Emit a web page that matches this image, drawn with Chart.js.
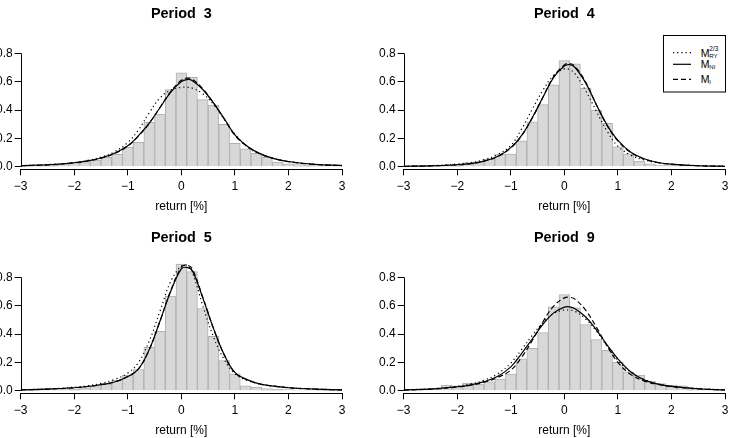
<!DOCTYPE html>
<html>
<head>
<meta charset="utf-8">
<script src="https://cdn.jsdelivr.net/npm/chart.js@4.4.1/dist/chart.umd.min.js"></script>
<style>
  html, body { margin: 0; padding: 0; background: #fff; width: 734px; height: 438px; overflow: hidden; position: relative; }
  canvas.panel { position: absolute; }
  #legend { position: absolute; left: 663px; top: 35px; }
</style>
</head>
<body>
<canvas class="panel" id="p3" width="367" height="219" style="left:-16px;top:0px"></canvas>
<canvas class="panel" id="p4" width="367" height="219" style="left:367px;top:0px"></canvas>
<canvas class="panel" id="p5" width="367" height="219" style="left:-16px;top:224px"></canvas>
<canvas class="panel" id="p9" width="367" height="219" style="left:367px;top:224px"></canvas>

<svg id="legend" width="64" height="60" font-family="Liberation Sans, Arial, sans-serif" fill="#000">
  <rect x="0.5" y="0.5" width="62" height="56.5" fill="#fff" stroke="#000" stroke-width="1"/>
  <line x1="10" y1="17.7" x2="28" y2="17.7" stroke="#000" stroke-width="1.2" stroke-dasharray="1.2 3"/>
  <line x1="10" y1="29.3" x2="28" y2="29.3" stroke="#000" stroke-width="1.2"/>
  <line x1="10" y1="44.3" x2="28" y2="44.3" stroke="#000" stroke-width="1.2" stroke-dasharray="5 3"/>
  <text x="37.7" y="21.7" font-size="10.5">M</text>
  <text x="46.3" y="15.7" font-size="6.5">2/3</text>
  <text x="46.3" y="22.6" font-size="6">RY</text>
  <text x="37.7" y="32.7" font-size="10.5">M</text>
  <text x="46.3" y="33.5" font-size="6">NI</text>
  <text x="37.7" y="47.7" font-size="10.5">M</text>
  <text x="46.3" y="48.5" font-size="6">I</text>
</svg>

<script>
const FONT = '"Liberation Sans", Arial, Helvetica, sans-serif';

// histogram bins (centres, width 0.2)
const BIN_CENTERS = [-3.0, -2.8, -2.6, -2.4, -2.2, -2.0, -1.8, -1.6, -1.4, -1.2, -1.0, -0.8, -0.6, -0.4, -0.2,
  0.0, 0.2, 0.4, 0.6, 0.8, 1.0, 1.2, 1.4, 1.6, 1.8, 2.0, 2.2, 2.4, 2.6, 2.8, 3.0];
const CURVE_X = [-3, -2.5, -2, -1.75, -1.5, -1.25, -1, -0.8, -0.6, -0.4, -0.2, 0, 0.1, 0.2, 0.4, 0.6, 0.8, 1, 1.25, 1.5, 1.75, 2, 2.5, 3];
const X_TICKS = [-3, -2, -1, 0, 1, 2, 3];
const Y_TICKS = [0, 0.2, 0.4, 0.6, 0.8];

// Period 3
const P3_HIST = [0.003, 0.005, 0.01, 0.01, 0.02, 0.03, 0.03, 0.047, 0.066, 0.087, 0.138, 0.173, 0.314, 0.372, 0.545,
  0.662, 0.63, 0.473, 0.435, 0.30, 0.166, 0.127, 0.094, 0.066, 0.033, 0.02, 0.015, 0.01, 0.005, 0.005, 0.003];
const P3_RY = [0.008, 0.015, 0.03, 0.045, 0.068, 0.105, 0.172, 0.26, 0.38, 0.485, 0.54, 0.56, 0.56, 0.555, 0.515, 0.44, 0.335, 0.23, 0.135, 0.085, 0.056, 0.037, 0.017, 0.009];
const P3_NI = [0.008, 0.014, 0.028, 0.041, 0.062, 0.095, 0.148, 0.219, 0.307, 0.416, 0.525, 0.601, 0.615, 0.609, 0.545, 0.45, 0.34, 0.225, 0.14, 0.088, 0.056, 0.037, 0.017, 0.009];
const P3_I  = [0.007, 0.013, 0.027, 0.04, 0.06, 0.093, 0.146, 0.217, 0.306, 0.418, 0.53, 0.61, 0.625, 0.618, 0.55, 0.45, 0.338, 0.222, 0.138, 0.086, 0.055, 0.036, 0.016, 0.008];

// Period 4
const P4_HIST = [0.002, 0.003, 0.005, 0.008, 0.01, 0.015, 0.03, 0.03, 0.054, 0.089, 0.089, 0.183, 0.316, 0.438, 0.578,
  0.749, 0.726, 0.555, 0.40, 0.307, 0.14, 0.091, 0.04, 0.02, 0.012, 0.008, 0.006, 0.004, 0.003, 0.003, 0.002];
const P4_RY = [0.004, 0.008, 0.019, 0.03, 0.05, 0.085, 0.15, 0.265, 0.405, 0.54, 0.645, 0.69, 0.685, 0.655, 0.535, 0.39, 0.25, 0.145, 0.08, 0.047, 0.028, 0.018, 0.008, 0.004];
const P4_NI = [0.003, 0.006, 0.014, 0.022, 0.04, 0.072, 0.135, 0.22, 0.345, 0.49, 0.63, 0.71, 0.72, 0.70, 0.59, 0.436, 0.293, 0.186, 0.101, 0.055, 0.03, 0.018, 0.007, 0.003];
const P4_I  = [0.003, 0.006, 0.014, 0.022, 0.04, 0.071, 0.133, 0.218, 0.343, 0.49, 0.635, 0.718, 0.728, 0.708, 0.595, 0.436, 0.29, 0.182, 0.098, 0.053, 0.029, 0.017, 0.007, 0.003];

// Period 5
const P5_HIST = [0.002, 0.003, 0.004, 0.006, 0.008, 0.01, 0.02, 0.03, 0.045, 0.075, 0.108, 0.15, 0.307, 0.419, 0.667,
  0.894, 0.84, 0.58, 0.384, 0.213, 0.12, 0.035, 0.025, 0.015, 0.01, 0.008, 0.005, 0.004, 0.003, 0.002, 0.002];
const P5_RY = [0.007, 0.013, 0.025, 0.035, 0.052, 0.08, 0.125, 0.2, 0.35, 0.56, 0.77, 0.88, 0.885, 0.84, 0.60, 0.38, 0.22, 0.12, 0.07, 0.045, 0.032, 0.023, 0.012, 0.006];
const P5_NI = [0.006, 0.011, 0.021, 0.03, 0.043, 0.062, 0.10, 0.155, 0.29, 0.49, 0.70, 0.86, 0.87, 0.85, 0.655, 0.44, 0.255, 0.13, 0.075, 0.045, 0.031, 0.021, 0.011, 0.006];
const P5_I  = [0.006, 0.011, 0.021, 0.03, 0.043, 0.062, 0.10, 0.155, 0.29, 0.49, 0.705, 0.872, 0.885, 0.862, 0.66, 0.44, 0.253, 0.128, 0.074, 0.045, 0.031, 0.021, 0.011, 0.006];

// Period 9
const P9_HIST = [0.003, 0.005, 0.008, 0.012, 0.04, 0.035, 0.054, 0.047, 0.063, 0.082, 0.117, 0.225, 0.30, 0.41, 0.592,
  0.679, 0.585, 0.466, 0.36, 0.285, 0.20, 0.133, 0.11, 0.068, 0.05, 0.04, 0.035, 0.015, 0.008, 0.005, 0.003];
const P9_RY = [0.007, 0.014, 0.032, 0.048, 0.074, 0.118, 0.195, 0.29, 0.39, 0.48, 0.545, 0.57, 0.568, 0.56, 0.505, 0.42, 0.315, 0.215, 0.128, 0.077, 0.048, 0.032, 0.015, 0.007];
const P9_NI = [0.006, 0.012, 0.028, 0.042, 0.064, 0.10, 0.168, 0.262, 0.365, 0.468, 0.549, 0.59, 0.592, 0.579, 0.52, 0.428, 0.322, 0.225, 0.13, 0.075, 0.047, 0.031, 0.014, 0.006];
const P9_I  = [0.005, 0.011, 0.026, 0.039, 0.06, 0.093, 0.145, 0.235, 0.354, 0.486, 0.597, 0.655, 0.659, 0.645, 0.567, 0.447, 0.315, 0.20, 0.112, 0.068, 0.044, 0.029, 0.013, 0.006];

const PANELS = [
  { id: 'p3', title: 'Period  3', hist: P3_HIST, ry: P3_RY, ni: P3_NI, mi: P3_I },
  { id: 'p4', title: 'Period  4', hist: P4_HIST, ry: P4_RY, ni: P4_NI, mi: P4_I },
  { id: 'p5', title: 'Period  5', hist: P5_HIST, ry: P5_RY, ni: P5_NI, mi: P5_I },
  { id: 'p9', title: 'Period  9', hist: P9_HIST, ry: P9_RY, ni: P9_NI, mi: P9_I },
];

// R-style y axis line: only from first to last tick
const yAxisLine = {
  id: 'yAxisLine',
  afterDraw(chart) {
    const y = chart.scales.y, ctx = chart.ctx;
    const x = Math.round(chart.chartArea.left) + 0.5;
    ctx.save();
    ctx.strokeStyle = '#000';
    ctx.lineWidth = 1;
    ctx.beginPath();
    ctx.moveTo(x, y.getPixelForValue(Y_TICKS[0]));
    ctx.lineTo(x, y.getPixelForValue(Y_TICKS[Y_TICKS.length - 1]));
    ctx.stroke();
    ctx.restore();
  }
};

const curve = (ys, dash) => ({
  type: 'line',
  data: CURVE_X.map((x, k) => ({ x, y: ys[k] })),
  borderColor: '#000',
  borderWidth: 1.2,
  borderDash: dash,
  pointRadius: 0,
  fill: false,
  tension: 0.4,
});

PANELS.forEach(p => {
  new Chart(document.getElementById(p.id), {
    type: 'bar',
    data: {
      datasets: [
        curve(p.mi, [5, 3]),
        curve(p.ni, []),
        curve(p.ry, [1.2, 3]),
        {
          type: 'bar',
          data: BIN_CENTERS.map((x, k) => ({ x, y: p.hist[k] })),
          backgroundColor: '#d8d8d8',
          borderColor: '#b0b0b0',
          borderWidth: 1,
          borderSkipped: 'start',
          barPercentage: 1,
          categoryPercentage: 1,
        },
      ]
    },
    options: {
      responsive: false,
      animation: false,
      devicePixelRatio: 1,
      layout: { padding: { left: 0, right: 9, top: 0, bottom: 0 } },
      plugins: {
        legend: { display: false },
        tooltip: { enabled: false },
        title: {
          display: true, text: p.title, fullSize: false, color: '#000',
          font: { family: FONT, size: 14.4, weight: 'bold' },
          padding: { top: 5.5, bottom: 12.1 }
        }
      },
      scales: {
        x: {
          type: 'linear', min: -3, max: 3, offset: false,
          afterBuildTicks: s => { s.ticks = X_TICKS.map(v => ({ value: v })); },
          afterFit: s => { s.height = 49.7; },
          grid: { drawOnChartArea: false, drawTicks: true, tickLength: 6, color: '#000', offset: false },
          border: { display: true, color: '#000', width: 1 },
          ticks: {
            color: '#000', padding: 4, maxRotation: 0, autoSkip: false,
            font: { family: FONT, size: 12 },
            callback: v => String(v).replace('-', '\u2212')
          },
          title: {
            display: true, text: 'return [%]', color: '#000',
            font: { family: FONT, size: 12 }, padding: { top: 0, bottom: 5.3 }
          }
        },
        y: {
          min: -0.018, max: 0.93,
          afterBuildTicks: s => { s.ticks = Y_TICKS.map(v => ({ value: v })); },
          afterFit: s => { s.width = 36.7; },
          grid: { drawOnChartArea: false, drawTicks: true, tickLength: 6, color: '#000' },
          border: { display: false },
          ticks: {
            color: '#000', padding: 2,
            font: { family: FONT, size: 12 },
            callback: v => v.toFixed(1)
          }
        }
      }
    },
    plugins: [yAxisLine]
  });
});
</script>
</body>
</html>
